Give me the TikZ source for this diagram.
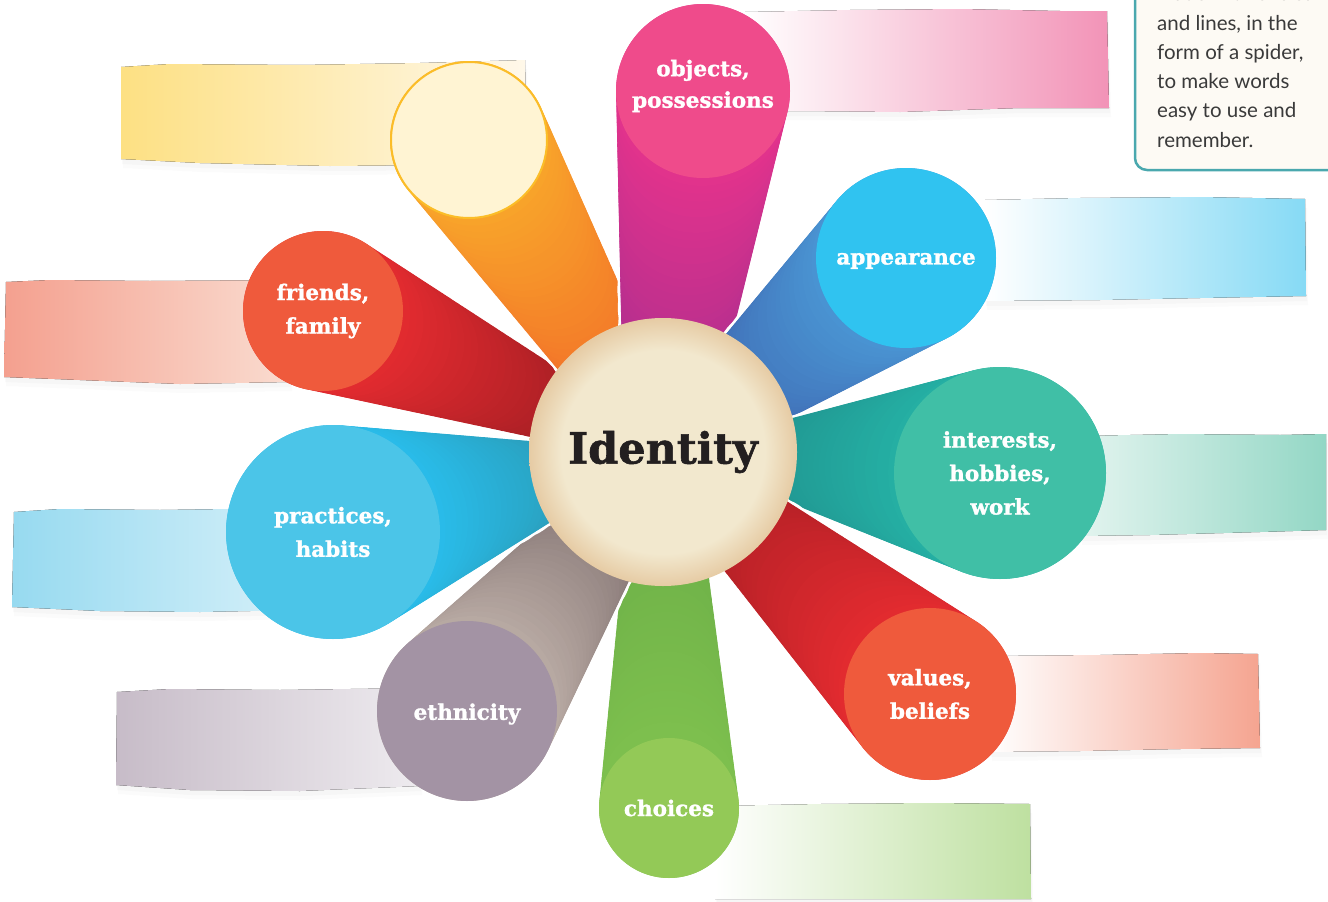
\documentclass[tikz,border=0pt]{standalone}
\usepackage{fontspec}
\usetikzlibrary{calc, shadows}
\newfontfamily\labelfont{DejaVu Serif}[BoldFont={DejaVu Serif Bold}, BoldFeatures={FakeBold=1.3}]
\newfontfamily\notefont{Lato}

% beam colours (near the petal / near the middle)
\definecolor{orgNear}{HTML}{F8A52A}\definecolor{orgFar}{HTML}{F05A28}
\definecolor{magNear}{HTML}{E3338C}\definecolor{magFar}{HTML}{9A2C8F}
\definecolor{bluNear}{HTML}{4A95D3}\definecolor{bluFar}{HTML}{3A55A4}
\definecolor{tealNear}{HTML}{25B0A4}\definecolor{tealFar}{HTML}{1D8686}
\definecolor{redNear}{HTML}{E42B30}\definecolor{redFar}{HTML}{9B1B21}
\definecolor{grnNear}{HTML}{7EC04E}\definecolor{grnFar}{HTML}{67AB46}
\definecolor{mauNear}{HTML}{B9ABA4}\definecolor{mauFar}{HTML}{6B5A5C}
\definecolor{cyaNear}{HTML}{29BDEB}\definecolor{cyaFar}{HTML}{2A8B9D}
\definecolor{famNear}{HTML}{E42B30}\definecolor{famFar}{HTML}{8A191E}
% petal colours
\definecolor{yelPale}{HTML}{FFF4D3}\definecolor{yelRim}{HTML}{FBBD28}
\definecolor{objPink}{HTML}{EF4B8B}
\definecolor{appCyan}{HTML}{30C3F0}
\definecolor{intTeal}{HTML}{40BFA6}
\definecolor{valRed}{HTML}{EF5A3C}
\definecolor{choGreen}{HTML}{93C957}
\definecolor{ethMauve}{HTML}{A393A4}
\definecolor{praBlue}{HTML}{4BC5E8}
\definecolor{friRed}{HTML}{EF5A3C}
% banners
\definecolor{bnYel}{HTML}{FDE083}\definecolor{bnYelEnd}{HTML}{FFF8EA}
\definecolor{bnPink}{HTML}{F293B7}
\definecolor{bnSky}{HTML}{86DAF5}
\definecolor{bnTealA}{HTML}{E3F4EF}\definecolor{bnTeal}{HTML}{93D7C5}
\definecolor{bnSalm}{HTML}{F5A490}
\definecolor{bnGrn}{HTML}{BEE0A0}
\definecolor{bnLav}{HTML}{C7BCC8}\definecolor{bnLavEnd}{HTML}{EEEBEF}
\definecolor{bnBlue}{HTML}{97DAF0}\definecolor{bnBlueEnd}{HTML}{D6F0F9}
\definecolor{bnRose}{HTML}{F4A08F}\definecolor{bnRoseEnd}{HTML}{FADCD0}
% middle and note
\definecolor{idIn}{HTML}{F2E8CE}\definecolor{idOut}{HTML}{E6CBA4}
\definecolor{idText}{HTML}{231F20}
\definecolor{boxLine}{HTML}{4AA8AE}\definecolor{boxFill}{HTML}{FDFAF4}
\definecolor{noteText}{HTML}{3A3A3A}

\pgfdeclareradialshading{idshade}{\pgfpoint{0bp}{0bp}}{color(0bp)=(idIn); color(19bp)=(idIn); color(25bp)=(idOut); color(50bp)=(idOut)}

\tikzstyle{banner} = [drop shadow={opacity=0.035, shadow xshift=2pt, shadow yshift=-9pt}, drop shadow={opacity=0.04, shadow xshift=1pt, shadow yshift=-5pt}]
\tikzstyle{petaltext} = [inner sep=0pt, text=white, align=center, font=\labelfont\bfseries\fontsize{21.5}{33.5}\selectfont]
\tikzstyle{petal} = [petaltext, circle]
\tikzstyle{idcirc} = [circle, inner sep=0pt, minimum size=268pt, shading=idshade, text=idText, font=\labelfont\bfseries\fontsize{43}{43}\selectfont]
\tikzstyle{notebox} = [draw=boxLine, line width=2.5pt, fill=boxFill, rounded corners=12pt]
\tikzstyle{notetext} = [align=left, inner sep=0pt, text=noteText, font=\notefont\fontsize{20.5}{29.3}\selectfont]

\begin{document}
\begin{tikzpicture}[x=1pt,y=-1pt]
\clip (0,0) rectangle (1328,902);

% banners
\fill[banner, left color=bnYel, right color=bnYelEnd] (121,67) -- (170,64) -- (300,65) -- (420,63) -- (525,60) -- (527,160) -- (440,165) -- (330,166) -- (200,163) -- (121,159) -- cycle;
\fill[banner, left color=white, right color=bnPink] (745,12) -- (850,10) -- (960,9) -- (1060,11) -- (1107,11) -- (1109,108) -- (1020,108) -- (900,112) -- (800,111) -- (745,112) -- cycle;
\fill[banner, left color=white, right color=bnSky] (985,200) -- (1080,198) -- (1200,197) -- (1305,199) -- (1306,296) -- (1200,298) -- (1100,300) -- (985,301) -- cycle;
\fill[banner, left color=bnTealA, right color=bnTeal] (1080,436) -- (1180,434) -- (1280,435) -- (1326,434) -- (1326,530) -- (1260,532) -- (1150,535) -- (1080,536) -- cycle;
\fill[banner, left color=white, right color=bnSalm] (990,656) -- (1100,655) -- (1200,653) -- (1258,654) -- (1260,748) -- (1180,749) -- (1080,751) -- (990,752) -- cycle;
\fill[banner, left color=white, right color=bnGrn] (715,806) -- (820,804) -- (930,803) -- (1030,804) -- (1031,899) -- (715,899) -- cycle;
\fill[banner, left color=bnLav, right color=bnLavEnd] (117,692) -- (170,689) -- (280,690) -- (420,688) -- (420,786) -- (300,791) -- (190,790) -- (116,785) -- cycle;
\fill[banner, left color=bnBlue, right color=bnBlueEnd] (14,512) -- (60,509) -- (160,510) -- (300,508) -- (300,610) -- (200,612) -- (100,611) -- (12,607) -- cycle;
\fill[banner, left color=bnRose, right color=bnRoseEnd] (6,282) -- (50,280) -- (150,281) -- (290,280) -- (290,382) -- (180,384) -- (80,380) -- (4,377) -- cycle;

% centres
\coordinate (idc) at (663,452);
\coordinate (yelc) at (469,140);
\coordinate (objc) at (703,91);
\coordinate (appc) at (906,258);
\coordinate (intc) at (1000,473);
\coordinate (valc) at (930,694);
\coordinate (choc) at (669,808);
\coordinate (ethc) at (467,711);
\coordinate (prac) at (333,532);
\coordinate (fric) at (323,311);

% beams
\foreach \p/\r/\rz/\cn/\cf in {fric/80/13/famNear/famFar, yelc/79/28/orgNear/orgFar, objc/87/39/magNear/magFar, appc/90/27/bluNear/bluFar, intc/106/0/tealNear/tealFar, valc/86/25/redNear/redFar, choc/70/29/grnNear/grnFar, ethc/90/25/mauNear/mauFar, prac/107/0/cyaNear/cyaFar}{
  \foreach \t in {0,0.05,...,0.7}
    \fill[white] ($(idc)!\t!(\p)$) circle[radius={(\rz+\t*(\r-\rz))*1pt+3pt}];
  \foreach \t in {0,0.025,...,1}{
    \pgfmathtruncatemacro\pc{100*\t}
    \fill[\cn!\pc!\cf] ($(idc)!\t!(\p)$) circle[radius={(\rz+\t*(\r-\rz))*1pt}];
  }
}

% petals
\node[petal, fill=yelPale, draw=yelRim, line width=2pt, minimum size=156pt] (yel) at (yelc) {};
\node[petal, fill=objPink, minimum size=174pt] (obj) at (objc) {};
\node[petaltext, font=\labelfont\bfseries\fontsize{21.5}{31.5}\selectfont] (objt) at (703,86) {objects,\\possessions};
\node[petal, fill=appCyan, minimum size=180pt] (app) at (appc) {};
\node[petaltext] (appt) at (906,261) {appearance};
\node[petal, fill=intTeal, minimum size=212pt] (int) at (intc) {interests,\\hobbies,\\work};
\node[petal, fill=valRed, minimum size=172pt] (val) at (valc) {values,\\beliefs};
\node[petal, fill=choGreen, minimum size=140pt] (cho) at (choc) {choices};
\node[petal, fill=ethMauve, minimum size=180pt] (eth) at (ethc) {};
\node[petaltext] (etht) at (467,714) {ethnicity};
\node[petal, fill=praBlue, minimum size=214pt] (pra) at (prac) {practices,\\habits};
\node[petal, fill=friRed, minimum size=160pt] (fri) at (fric) {friends,\\family};

\node[idcirc] (id) at (idc) {Identity};

% note
\draw[notebox] (1135,-30) rectangle (1345,170);
\node[notetext, anchor=north west] (note) at (1157,-14.5) {made with circles\\and lines, in the\\form of a spider,\\to make words\\easy to use and\\remember.};

\end{tikzpicture}
\end{document}
